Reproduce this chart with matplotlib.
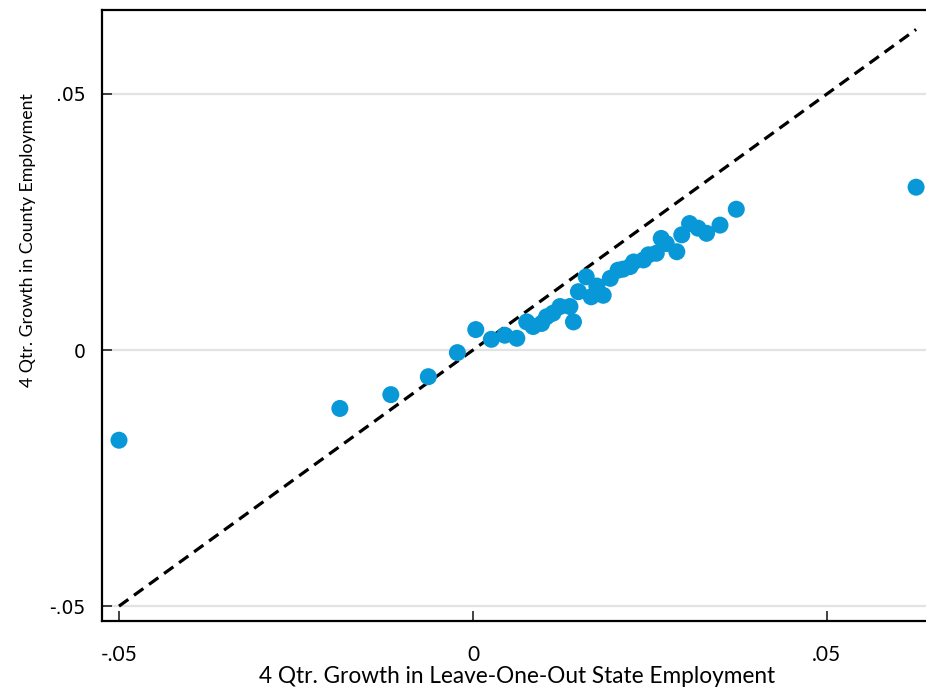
import matplotlib
matplotlib.use("Agg")
import matplotlib.pyplot as plt
import numpy as np

# Binned means: leave-one-out state growth vs county growth
state_growth = [
    -0.0500, -0.0188, -0.0116, -0.0063, -0.0022, 0.0004, 0.0026, 0.0045,
    0.0062, 0.0076, 0.0085, 0.0097, 0.0104, 0.0113, 0.0123, 0.0137,
    0.0142, 0.0149, 0.0160, 0.0167, 0.0175, 0.0184, 0.0194, 0.0205,
    0.0212, 0.0222, 0.0227, 0.0241, 0.0248, 0.0259, 0.0266, 0.0273,
    0.0288, 0.0295, 0.0306, 0.0318, 0.0330, 0.0349, 0.0372, 0.0626,
]
county_growth = [
    -0.0176, -0.0114, -0.0087, -0.0052, -0.0005, 0.0040, 0.0021, 0.0029,
    0.0023, 0.0055, 0.0046, 0.0052, 0.0065, 0.0072, 0.0085, 0.0085,
    0.0055, 0.0114, 0.0143, 0.0104, 0.0125, 0.0107, 0.0140, 0.0156,
    0.0158, 0.0163, 0.0172, 0.0176, 0.0186, 0.0189, 0.0218, 0.0208,
    0.0192, 0.0225, 0.0247, 0.0238, 0.0228, 0.0244, 0.0275, 0.0318,
]
x_ticks = [-0.05, 0.0, 0.05]
y_ticks = [-0.05, 0.0, 0.05]
tick_labels = ["-.05", "0", ".05"]

fig = plt.figure(figsize=(9.26, 6.91), dpi=100)
ax = fig.add_axes([102 / 926, 70 / 691, 824 / 926, 611 / 691])

ax.set_xlim(-0.0524, 0.0640)
ax.set_ylim(-0.0529, 0.0664)

# horizontal grid at the y ticks
for yv in y_ticks:
    ax.axhline(yv, color="#e3e3e3", lw=1.6, zorder=0)

# 45-degree reference line
lo, hi = min(state_growth), max(state_growth)
ax.plot([lo, hi], [lo, hi], color="black", lw=2.3, ls=(0, (3.6, 2.2)), zorder=2)

ax.scatter(state_growth, county_growth, s=150, color="#0898d8",
           edgecolors="none", zorder=3)

ax.set_xticks(x_ticks)
ax.set_xticklabels(tick_labels, fontfamily="Lato", fontsize=15)
ax.set_yticks(y_ticks)
ax.set_yticklabels(tick_labels, fontfamily="DejaVu Sans", fontsize=13.5)
ax.tick_params(axis="both", direction="in", length=7, width=1.2, color="#222222")
ax.tick_params(axis="x", pad=17)
ax.tick_params(axis="y", pad=12)

for side in ["left", "bottom", "top"]:
    ax.spines[side].set_linewidth(1.6)
    ax.spines[side].set_color("black")
ax.spines["right"].set_visible(False)

ax.set_xlabel("4 Qtr. Growth in Leave-One-Out State Employment",
              fontfamily="Lato", fontsize=16.3)
ax.xaxis.set_label_coords(0.504, -0.1015)
ax.xaxis.label.set_verticalalignment("baseline")
ax.set_ylabel("4 Qtr. Growth in County Employment",
              fontfamily="Lato", fontsize=12.8)
ax.yaxis.set_label_coords(-0.080, 0.6236)

fig.savefig("out.png", dpi=100)
